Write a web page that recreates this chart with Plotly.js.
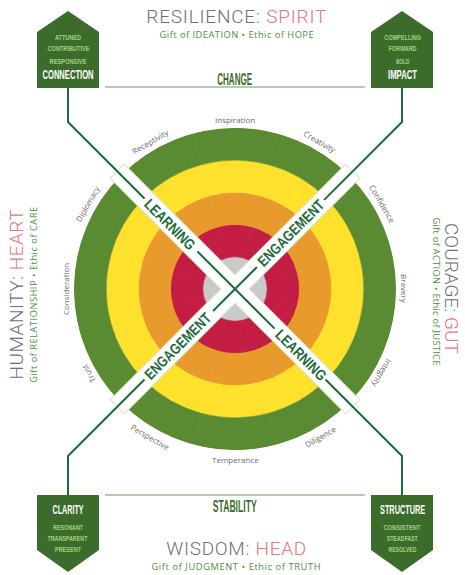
<!DOCTYPE html>
<html><head><meta charset="utf-8">
<script src="https://cdn.plot.ly/plotly-3.0.1.min.js"></script>
<style>html,body{margin:0;padding:0;background:#fff;}#chart{width:465px;height:575px;}</style>
</head><body><div id="chart"></div>
<script>
// ---- data ----
const virtues = ['Inspiration','Creativity','Confidence','Bravery','Integrity','Diligence','Temperance','Perspective','Trust','Consideration','Diplomacy','Receptivity'];
const virtueAngles = [90,60,30,0,-30,-60,-90,-120,210,180,150,120];
const coreLevel   = [1,1,1,1,1,1,1,1,1,1,1,1];
const redLevel    = [1,1,1,1,1,1,1,1,1,1,1,1];
const orangeLevel = [1,1,1,1,1,1,1,1,1,1,1,1];
const yellowLevel = [1,1,1,1,1,1,1,1,1,1,1,1];
const greenLevel  = [1,1,1,1,1,1,1,1,1,1,1,1];
const ringColors = ['#c9c9c9','#c31d44','#e99a2c','#fde12c','#5a8a31'];
const spokeAngles = [15,75,105,165,195,255,285,345];
const quadrantTitles = ['RESILIENCE: ','COURAGE: ','WISDOM: ','HUMANITY: '];
const quadrantAccents = ['SPIRIT','GUT','HEAD','HEART'];
const quadrantSubs = ['Gift of IDEATION • Ethic of HOPE','Gift of ACTION • Ethic of JUSTICE','Gift of JUDGMENT • Ethic of TRUTH','Gift of RELATIONSHIP • Ethic of CARE'];
const boxNames = ['CONNECTION','IMPACT','CLARITY','STRUCTURE'];
const boxWords = [['ATTUNED','CONTRIBUTIVE','RESPONSIVE'],['COMPELLING','FORWARD','BOLD'],['RESONANT','TRANSPARENT','PRESENT'],['CONSISTENT','STEADFAST','RESOLVED']];
const axisLabels = ['CHANGE','STABILITY'];
const bandLabels = ['LEARNING','ENGAGEMENT','ENGAGEMENT','LEARNING'];

// ---- geometry helpers (pixel -> paper) ----
const W = 465, H = 575, CX = 235, CY = 289, R = 161;
const X = p => p / W, Y = p => 1 - p / H;
const DG = '#1d6b3b', BOX = '#3c6c2b', LG = '#a9cf7e', SUBG = '#4f8d3e';
const NARROW = 'Liberation Sans Narrow, Arial Narrow, Liberation Sans, sans-serif';

const levels = [coreLevel, redLevel, orangeLevel, yellowLevel, greenLevel];
const traces = levels.map((lv, i) => ({
  type:'barpolar', r: lv, theta: virtueAngles, width: virtues.map(() => 30),
  marker:{color: ringColors[i], line:{color: ringColors[i], width:0.6}},
  hoverinfo:'skip', showlegend:false
}));

const shapes = [];
const annotations = [];
const fits = []; // [annotationIndex, width, mode]
function ann(text, px, py, size, color, family, extra, fit) {
  annotations.push(Object.assign({
    text, x: X(px), y: Y(py), xref:'paper', yref:'paper', showarrow:false,
    xanchor:'center', yanchor:'middle', font:{size, color, family}
  }, extra || {}));
  if (fit) fits.push([annotations.length - 1, fit[0], fit[1]]);
  return annotations[annotations.length - 1];
}
function pt(r, deg) { const a = deg * Math.PI / 180; return [CX + r * Math.cos(a), CY - r * Math.sin(a)]; }
function path(pts, close) { return pts.map((p, i) => (i ? 'L' : 'M') + X(p[0]).toFixed(5) + ',' + Y(p[1]).toFixed(5)).join(' ') + (close ? ' Z' : ''); }

// bands along diagonals
const BL = 166, BW = 9.5;
function bandPoly(d) {
  const a = pt(BL, d), b = pt(BL, d + 180);
  const n = [Math.cos((d + 90) * Math.PI / 180) * BW, -Math.sin((d + 90) * Math.PI / 180) * BW];
  return [[a[0]+n[0], a[1]+n[1]], [b[0]+n[0], b[1]+n[1]], [b[0]-n[0], b[1]-n[1]], [a[0]-n[0], a[1]-n[1]]];
}
[45, 135].forEach(d => shapes.push({type:'path', xref:'paper', yref:'paper', path: path(bandPoly(d), true), fillcolor:'#ffffff', line:{color:'#d7e5c6', width:2}}));
[45, 135].forEach(d => shapes.push({type:'path', xref:'paper', yref:'paper', path: path(bandPoly(d), true), fillcolor:'#ffffff', line:{width:0}}));

// arms
const arms = [
  {deg:135, rin:53, rout:128, bx:68, ey:122, by:88, fit:65},
  {deg:45, rin:31, rout:126, bx:402, ey:122, by:88, fit:87},
  {deg:225, rin:31, rout:128, bx:68, ey:456, by:495, fit:87},
  {deg:315, rin:56, rout:128, bx:402, ey:456, by:495, fit:65}
];
arms.forEach((a, i) => {
  shapes.push({type:'path', xref:'paper', yref:'paper', path: path([[a.bx, a.by], [a.bx, a.ey], pt(a.rout, a.deg)]), line:{color:DG, width:2}});
  shapes.push({type:'path', xref:'paper', yref:'paper', path: path([[CX, CY], pt(a.rin, a.deg)]), line:{color:DG, width:2}});
  const c = pt((a.rin + a.rout) / 2 + 1, a.deg);
  const ang = (a.deg === 135 || a.deg === 315) ? 45 : -45;
  const o = ann(bandLabels[i], c[0], c[1], 15, DG, NARROW, {textangle: ang}, [a.fit, 'spacingAndGlyphs']);
  o.font.weight = 'bold';
});

// boxes
const topBox = (cx) => [[cx-31, 32], [cx, 11], [cx+31, 32], [cx+31, 88], [cx-31, 88]];
const botBox = (cx) => [[cx-31, 495], [cx+31, 495], [cx+31, 550], [cx, 572], [cx-31, 550]];
[topBox(68), topBox(402), botBox(68), botBox(402)].forEach(p => {
  shapes.push({type:'path', xref:'paper', yref:'paper', path: path(p, true), fillcolor: BOX, line:{width:0}});
});
const nameFit = [51, 29, 31, 45];
const wordFit = [[26,42,37],[37,28,13.5],[30,40,26],[37,31,28]];
[[68, true], [402, true], [68, false], [402, false]].forEach((b, i) => {
  const wy = b[1] ? 37 : 527, ws = b[1] ? 12 : 11, ny = b[1] ? 75 : 510;
  boxWords[i].forEach((w, j) => { const o = ann(w, b[0], wy + j * ws, 6.8, LG, NARROW, null, [wordFit[i][j], 'spacingAndGlyphs']); o.font.weight = 'bold'; });
  const o = ann(boxNames[i], b[0], ny, 12.5, '#ffffff', NARROW, null, [nameFit[i], 'spacingAndGlyphs']);
  o.font.weight = 'bold';
});

// horizontal rules and axis words
shapes.push({type:'line', xref:'paper', yref:'paper', x0:X(105), x1:X(365), y0:Y(87), y1:Y(87), line:{color:'#9cc096', width:1.5}});
shapes.push({type:'line', xref:'paper', yref:'paper', x0:X(105), x1:X(365), y0:Y(495), y1:Y(495), line:{color:'#9cc096', width:1.5}});
[[79, 35], [506, 44]].forEach((p, i) => {
  const o = ann(axisLabels[i], 235, p[0], 16, BOX, NARROW, null, [p[1], 'spacingAndGlyphs']);
  o.font.weight = 'bold';
});

// quadrant titles
const TF = 'Roboto, Lato, sans-serif', SF = 'Open Sans, Lato, sans-serif';
const qpos = [
  {x:236, y:16.5, sx:236, sy:34.5, ang:0, tw:180, sw:154},
  {x:452, y:288, sx:437, sy:291, ang:90, tw:131, sw:148},
  {x:236, y:548, sx:236, sy:566, ang:0, tw:140, sw:169},
  {x:16, y:295, sx:33, sy:295, ang:-90, tw:170, sw:176}
];
quadrantTitles.forEach((t, i) => {
  const p = qpos[i];
  const o = ann(t + '<span style="color:#ea747a">' + quadrantAccents[i] + '</span>', p.x, p.y, 19, '#707070', TF, {textangle:p.ang}, [p.tw, 'spacing']);
  o.font.weight = 300;
  ann(quadrantSubs[i], p.sx, p.sy, 9.3, SUBG, SF, {textangle:p.ang}, [p.sw, 'spacing']);
});

// sector labels
virtues.forEach((v, i) => {
  const phi = virtueAngles[i];
  const p = pt(170, phi);
  const bottom = (phi <= -60 && phi >= -120);
  const ta = bottom ? (-90 - phi) : (90 - phi);
  ann(v, p[0], p[1], 8, '#6b6b6b', SF, {textangle: ta});
});

const layout = {
  width: W, height: H, margin:{l:0, r:0, t:0, b:0},
  paper_bgcolor:'#ffffff', showlegend:false,
  polar:{
    domain:{x:[X(CX - R), X(CX + R)], y:[Y(CY + R), Y(CY - R)]},
    bgcolor:'rgba(0,0,0,0)', barmode:'stack', bargap:0, hole:0,
    radialaxis:{visible:false, range:[0, 5], showgrid:false},
    angularaxis:{direction:'counterclockwise', rotation:0, tickmode:'array', tickvals: spokeAngles,
      showgrid:true, gridcolor:'rgba(255,255,255,0.75)', gridwidth:1.2, showline:false,
      showticklabels:false, ticks:'', layer:'above traces'}
  },
  shapes, annotations
};
Plotly.newPlot('chart', traces, layout, {staticPlot:true, displayModeBar:false}).then(() => {
  const gs = document.querySelectorAll('g.annotation');
  const byIdx = {};
  gs.forEach(g => { byIdx[g.getAttribute('data-index')] = g; });
  fits.forEach(f => {
    const g = byIdx[String(f[0])];
    if (!g) return;
    const t = g.querySelector('text.annotation-text');
    if (!t) return;
    t.setAttribute('textLength', f[1]);
    t.setAttribute('lengthAdjust', f[2]);
  });
});
</script>
</body></html>
